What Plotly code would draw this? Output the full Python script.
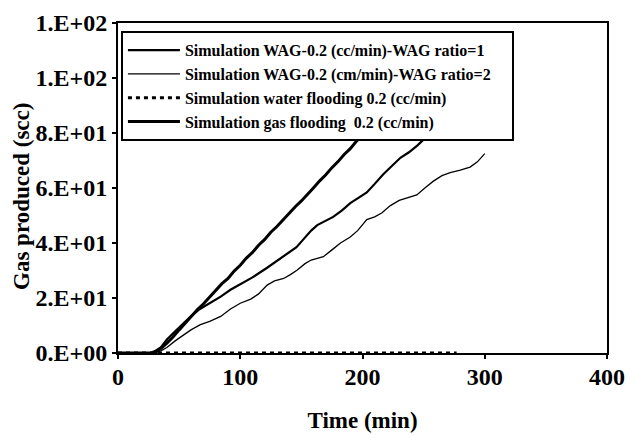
import plotly.graph_objects as go

# ---- data ----
gas_t = [0, 10, 20, 27, 32, 36, 40, 45, 50, 55, 60, 65, 70, 75, 80, 85, 90, 95, 100,
         105, 110, 115, 120, 125, 130, 135, 140, 145, 150, 155, 160, 165, 170, 175,
         180, 185, 190, 195, 200, 205, 210, 215, 220, 225, 229]
gas_v = [0, 0, 0, 0, 0.8, 2.0, 3.6, 5.8, 8.4, 10.9, 13.0, 15.8, 17.9, 20.4, 22.5, 25.2,
         27.1, 29.8, 31.9, 34.5, 36.6, 39.2, 41.3, 43.9, 46.0, 48.5, 50.8, 53.2, 55.3,
         57.9, 60.1, 62.6, 64.8, 67.4, 69.6, 72.2, 74.3, 77.0, 79.2, 81.8, 84.0, 86.6,
         88.9, 91.6, 93.9]

wag1_t = [0, 28, 35, 40, 47, 54, 60, 67, 75, 84, 92, 100, 110, 122, 130, 138, 146, 152,
          158, 163, 170, 176, 183, 190, 197, 203.5, 210, 217, 224, 231, 238, 245, 252,
          258, 265, 272, 280, 287, 293.5, 300, 306]
wag1_v = [0, 0, 2.0, 4.9, 8.0, 10.9, 13.5, 16.0, 18.0, 20.5, 23.0, 25.0, 27.5, 31.0,
          33.5, 35.8, 38.5, 41.5, 44.5, 46.5, 48.0, 49.5, 51.8, 54.5, 56.5, 58.4, 61.5,
          65.0, 68.0, 71.0, 73.0, 75.5, 78.5, 80.7, 82.5, 85.5, 89.5, 91.8, 92.8, 95.0,
          98.5]

wag2_t = [0, 30, 35, 40, 47, 54, 60, 67.4, 75, 84, 92, 100, 108.6, 115, 122, 128, 135.5,
          141, 146.4, 153, 158, 163, 168, 175, 182, 190, 196, 203.5, 210, 216, 222.5,
          230, 237, 244.4, 251, 258, 265, 271.7, 280, 288, 294, 300]
wag2_v = [0, 0, 0.8, 2.0, 4.5, 6.7, 8.5, 10.3, 11.5, 13.3, 16.0, 18.1, 19.6, 21.5, 24.7,
          26.2, 27.1, 28.5, 30.1, 32.5, 33.8, 34.4, 35.0, 37.5, 40.0, 42.2, 44.5, 48.5,
          49.5, 51.0, 53.5, 55.5, 56.5, 57.5, 60.0, 62.5, 64.5, 65.6, 66.5, 67.6, 69.5,
          72.5]

water_t = [0, 277]
water_v = [0, 0]

series_names = ["Simulation WAG-0.2 (cc/min)-WAG ratio=1",
                "Simulation WAG-0.2 (cm/min)-WAG ratio=2",
                "Simulation water flooding 0.2 (cc/min)",
                "Simulation gas flooding  0.2 (cc/min)"]

y_tickvals = [0, 20, 40, 60, 80, 100, 120]
y_ticktext = ["0.E+00", "2.E+01", "4.E+01", "6.E+01", "8.E+01", "1.E+02", "1.E+02"]
x_tickvals = [0, 100, 200, 300, 400]

FONT = "Liberation Serif, Times New Roman, serif"
PAD = "\u00a0" * 4

fig = go.Figure()
fig.add_trace(go.Scatter(x=wag1_t, y=wag1_v, mode="lines", name=series_names[0] + PAD,
                         line=dict(color="black", width=2.2)))
fig.add_trace(go.Scatter(x=wag2_t, y=wag2_v, mode="lines", name=series_names[1] + PAD,
                         line=dict(color="black", width=1.3)))
fig.add_trace(go.Scatter(x=water_t, y=water_v, mode="lines", name=series_names[2],
                         line=dict(color="black", width=3, dash="4px,4px")))
fig.add_trace(go.Scatter(x=gas_t, y=gas_v, mode="lines", name=series_names[3],
                         line=dict(color="black", width=3)))

fig.update_layout(
    width=636, height=435,
    margin=dict(l=118, r=29, t=23, b=82),
    plot_bgcolor="white", paper_bgcolor="white",
    font=dict(family=FONT, color="black", size=16, weight="bold"),
    showlegend=True,
    legend=dict(x=0.006, y=0.975, xanchor="left", yanchor="top",
                bgcolor="white", bordercolor="black", borderwidth=2,
                font=dict(family=FONT, size=16, color="black", weight="bold"),
                itemwidth=52, tracegroupgap=0),
    annotations=[dict(text="Gas produced (scc)", xref="paper", yref="paper",
                      x=0, y=0.5, xanchor="center", yanchor="middle",
                      xshift=-97, yshift=-9, textangle=-90, showarrow=False,
                      font=dict(family=FONT, size=23, color="black", weight="bold"))],
)
fig.update_xaxes(range=[0, 400], tickvals=x_tickvals, showgrid=False, zeroline=False,
                 automargin=False,
                 showline=True, linecolor="black", linewidth=2, mirror=True,
                 ticks="outside", ticklen=4, tickwidth=1.5, tickcolor="black",
                 ticklabelstandoff=-3,
                 tickfont=dict(family=FONT, size=24, weight="bold"),
                 title=dict(text="Time (min)", standoff=23,
                            font=dict(family=FONT, size=23, weight="bold")))
fig.update_yaxes(range=[0, 120], tickvals=y_tickvals, ticktext=y_ticktext,
                 showgrid=False, zeroline=False, automargin=False,
                 showline=True, linecolor="black", linewidth=2, mirror=True,
                 ticks="outside", ticklen=4, tickwidth=1.5, tickcolor="black",
                 tickfont=dict(family=FONT, size=24, weight="bold"))

fig.write_html("out.html", config={"displayModeBar": False},
               post_script="document.body.style.margin='0px';"
                           "document.body.style.overflow='hidden';")
